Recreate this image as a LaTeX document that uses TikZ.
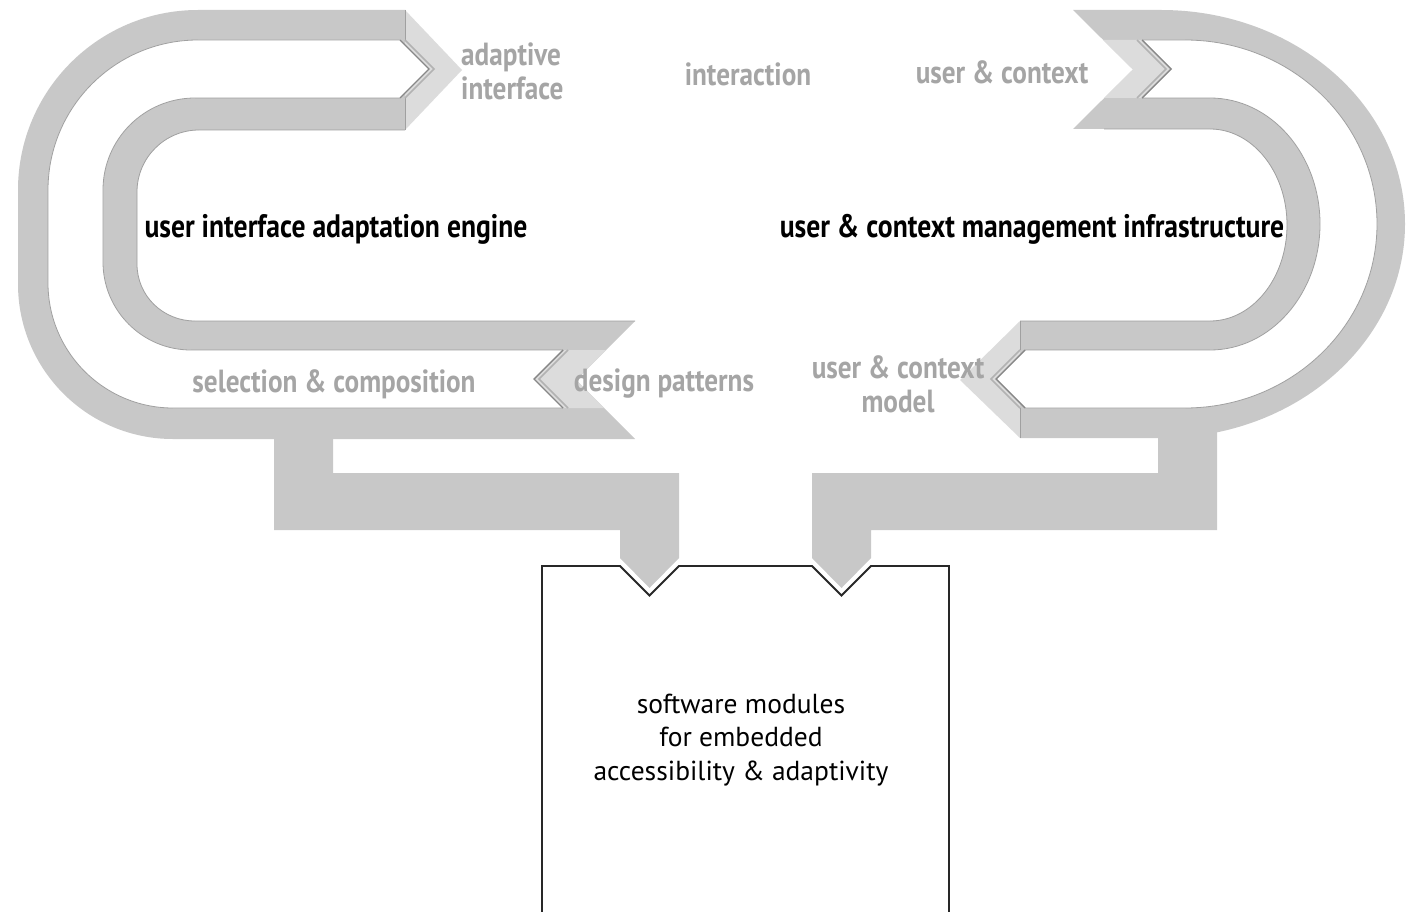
\documentclass[tikz,border=0pt]{standalone}
\usepackage{fontspec}
\setmainfont{PT Sans}
\newfontfamily\condfont[FakeStretch=0.85]{PT Sans}
\definecolor{bandgray}{RGB}{200,200,200}
\definecolor{tipgray}{RGB}{220,220,220}
\definecolor{edgegray}{RGB}{160,160,160}
\definecolor{notchdark}{RGB}{135,135,135}
\definecolor{notchmid}{RGB}{178,178,178}
\definecolor{labelgray}{RGB}{165,165,165}
\definecolor{boxline}{RGB}{40,40,40}

\begin{document}
\begin{tikzpicture}[x=1pt,y=-1pt,
  band/.style={fill=bandgray},
  tip/.style={fill=tipgray},
  channel/.style={fill=white},
  rim/.style={draw=edgegray,line width=0.8pt},
  notchdk/.style={draw=notchdark,line width=1.4pt},
  notchlt/.style={draw=notchmid,line width=1.6pt},
  glabel/.style={text=labelgray,inner sep=0pt,
    font=\condfont\bfseries\fontsize{32}{34}\selectfont},
  blabel/.style={text=black,inner sep=0pt,
    font=\condfont\bfseries\fontsize{32.5}{35}\selectfont},
  boxtext/.style={text=black,inner sep=0pt,align=center,
    font=\fontsize{27.5}{33.5}\selectfont},
  boxedge/.style={draw=boxline,line width=1.8pt,line join=miter}
]
\useasboundingbox (0,0) rectangle (1410,912);
\clip (0,0) rectangle (1410,912);
\fill[white] (0,0) rectangle (1410,912);

% ---- feeders from both loops into the module box ----
\fill[band] (274,430) -- (333,430) -- (333,473) -- (679,473) -- (679,558)
  -- (649.5,588) -- (620,558) -- (620,530) -- (274,530) -- cycle;
\fill[band] (1158,430) -- (1217,430) -- (1217,530) -- (871,530) -- (871,558)
  -- (841.5,588) -- (812,558) -- (812,473) -- (1158,473) -- cycle;

% ---- left loop: user interface adaptation engine ----
\fill[band] (405,10) -- (198,10) .. controls (98.6,10) and (18,90.6) .. (18,190)
  -- (18,284) .. controls (18,369.6) and (87.4,439) .. (173,439)
  -- (635,439) -- (576,380) -- (635,321)
  -- (195,321) .. controls (163,321) and (137,296) .. (137,264)
  -- (137,192) .. controls (137,157.8) and (164.8,130) .. (199,130)
  -- (405,130) -- cycle;
\fill[tip] (405,10) -- (462,70) -- (405,130) -- cycle;
\fill[channel] (400,40) -- (198,40) .. controls (115.2,40) and (48,107.2) .. (48,190)
  -- (48,283) .. controls (48,352) and (104,408) .. (173,408)
  -- (563,408) -- (534,379) -- (563,350)
  -- (191,350) .. controls (142.4,350) and (103,310.6) .. (103,262)
  -- (103,190) .. controls (103,139.2) and (144.2,98) .. (195,98)
  -- (400,98) -- (429,69) -- cycle;
\fill[tip] (563,350) -- (606,350) -- (576,380) -- (604,408) -- (563,408)
  -- (534,379) -- cycle;
\draw[rim] (400,40) -- (198,40) .. controls (115.2,40) and (48,107.2) .. (48,190)
  -- (48,283) .. controls (48,352) and (104,408) .. (173,408) -- (563,408);
\draw[rim] (563,350) -- (191,350) .. controls (142.4,350) and (103,310.6) .. (103,262)
  -- (103,190) .. controls (103,139.2) and (144.2,98) .. (195,98) -- (400,98);
\draw[rim] (635,321) -- (195,321) .. controls (163,321) and (137,296) .. (137,264)
  -- (137,192) .. controls (137,157.8) and (164.8,130) .. (199,130) -- (405,130);
\draw[rim] (405,10) -- (405,40) (405,98) -- (405,130);
\draw[notchlt] (405,40) -- (434,69) -- (405,98);
\draw[notchdk] (400,40) -- (429,69) -- (400,98);
\draw[notchlt] (568,350) -- (539,379) -- (568,408);
\draw[notchdk] (563,350) -- (534,379) -- (563,408);

% ---- right loop: user & context management infrastructure ----
\fill[band] (1073,10) -- (1161,10) .. controls (1295.8,10) and (1405,105.8) .. (1405,224)
  .. controls (1405,342.2) and (1295.8,438) .. (1161,438)
  -- (1020,438) -- (1020,321) -- (1210,321)
  .. controls (1252.5,321) and (1287,278) .. (1287,225)
  .. controls (1287,172) and (1252.5,129) .. (1210,129)
  -- (1073,129) -- (1133,69.5) -- cycle;
\fill[tip] (1020,321) -- (960,380) -- (1020,438) -- cycle;
\fill[channel] (1142,40) -- (1185,40) .. controls (1291,40) and (1377,122.4) .. (1377,224)
  .. controls (1377,325.6) and (1291,408) .. (1185,408)
  -- (1025,408) -- (996,379) -- (1025,350)
  -- (1210,350) .. controls (1270.8,350) and (1320,293.6) .. (1320,224)
  .. controls (1320,154.4) and (1270.8,98) .. (1210,98)
  -- (1142,98) -- (1171,69) -- cycle;
\fill[tip] (1103,40) -- (1142,40) -- (1171,69) -- (1142,98) -- (1104,98)
  -- (1133,69.5) -- cycle;
\draw[rim] (1142,40) -- (1185,40) .. controls (1291,40) and (1377,122.4) .. (1377,224)
  .. controls (1377,325.6) and (1291,408) .. (1185,408) -- (1025,408);
\draw[rim] (1025,350) -- (1210,350) .. controls (1270.8,350) and (1320,293.6) .. (1320,224)
  .. controls (1320,154.4) and (1270.8,98) .. (1210,98) -- (1142,98);
\draw[rim] (1020,321) -- (1210,321) .. controls (1252.5,321) and (1287,278) .. (1287,225)
  .. controls (1287,172) and (1252.5,129) .. (1210,129) -- (1104,129);
\draw[rim] (1020,321) -- (1020,350) (1020,408) -- (1020,438);
\draw[notchlt] (1137,40) -- (1166,69) -- (1137,98);
\draw[notchdk] (1142,40) -- (1171,69) -- (1142,98);
\draw[notchlt] (1020,350) -- (991,379) -- (1020,408);
\draw[notchdk] (1025,350) -- (996,379) -- (1025,408);

% ---- module box with two notches ----
\draw[boxedge] (542,930) -- (542,566) -- (620,566) -- (649.5,595.5) -- (679,566)
  -- (812,566) -- (841.5,595.5) -- (871,566) -- (949,566) -- (949,930);

% ---- labels ----
\node[glabel,anchor=west,align=left] (adaptive) at (461,71) {adaptive\\interface};
\node[glabel] (interaction) at (748,74) {interaction};
\node[glabel] (usercontext) at (1002,72) {user \& context};
\node[blabel] (uiengine) at (336,229) {user interface adaptation engine};
\node[blabel] (ucinfra) at (1032,229) {user \& context management infrastructure};
\node[glabel] (selection) at (334,384) {selection \& composition};
\node[glabel] (patterns) at (664,384) {design patterns};
\node[glabel,align=center] (ucmodel) at (898,384) {user \& context\\model};
\node[boxtext] (modules) at (741,740) {software modules\\for embedded\\accessibility \& adaptivity};
\end{tikzpicture}
\end{document}
